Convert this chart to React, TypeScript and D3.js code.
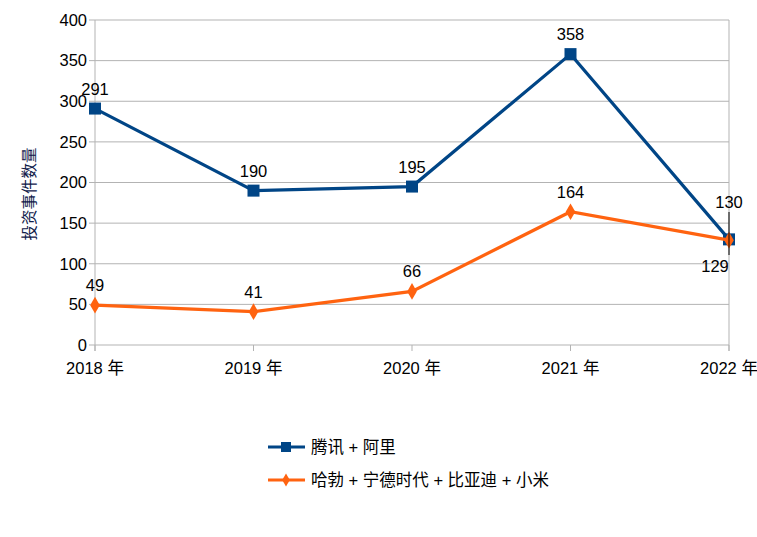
import * as React from "react";
import * as d3 from "d3";

const years = ["2018 年", "2019 年", "2020 年", "2021 年", "2022 年"];
const tencentAli = [291, 190, 195, 358, 130];
const othersSeries = [49, 41, 66, 164, 129];
const yTicks = [0, 50, 100, 150, 200, 250, 300, 350, 400];
const seriesNames = ["腾讯 + 阿里", "哈勃 + 宁德时代 + 比亚迪 + 小米"];

const W = 757;
const H = 537;
const left = 95;
const right = 729;
const top = 20;
const bottom = 345;
const font = "'Liberation Sans', 'Noto Sans CJK SC', sans-serif";
const blue = "#004586";
const orange = "#ff6310";

const App = () => {
  const x = d3.scalePoint<string>().domain(years).range([left, right]);
  const y = d3.scaleLinear().domain([0, 400]).range([bottom, top]);
  const line = d3
    .line<number>()
    .x((d, i) => x(years[i]) as number)
    .y(d => y(d));
  const diamond = d3.symbol().type(d3.symbolDiamond).size(80);
  const last = years.length - 1;

  return (
    <svg width={W} height={H} style={{ display: "block", position: "absolute", left: 0, top: 0 }}>
      <rect width={W} height={H} fill="#fff" />
      {yTicks.map(t => (
        <g key={t}>
          <line x1={left - 6} x2={right} y1={y(t)} y2={y(t)} stroke="#b3b3b3" strokeWidth={1} />
          <text x={left - 8} y={y(t)} dy="0.35em" textAnchor="end" fontFamily={font} fontSize={16.5} fill="#000">
            {t}
          </text>
        </g>
      ))}
      <line x1={left} x2={left} y1={top} y2={bottom + 6} stroke="#b3b3b3" />
      <line x1={right} x2={right} y1={top} y2={bottom + 6} stroke="#b3b3b3" />
      {years.map(yr => (
        <g key={yr}>
          <line x1={x(yr)} x2={x(yr)} y1={bottom} y2={bottom + 6} stroke="#b3b3b3" />
          <text x={x(yr)} y={bottom + 29} textAnchor="middle" fontFamily={font} fontSize={16.5} fill="#000">
            {yr}
          </text>
        </g>
      ))}
      <text
        transform={`translate(35,194) rotate(-90)`}
        textAnchor="middle"
        fontFamily={font}
        fontSize={15.5}
        fill="#10204a"
      >
        投资事件数量
      </text>

      <path d={line(tencentAli) || ""} fill="none" stroke={blue} strokeWidth={3.2} />
      {tencentAli.map((v, i) => (
        <rect key={i} x={(x(years[i]) as number) - 6} y={y(v) - 6} width={12} height={12} fill={blue} />
      ))}
      <path d={line(othersSeries) || ""} fill="none" stroke={orange} strokeWidth={3.2} />
      {othersSeries.map((v, i) => (
        <path key={i} d={diamond() || ""} transform={`translate(${x(years[i])},${y(v)})`} fill={orange} />
      ))}

      <line x1={right} x2={right} y1={212} y2={255} stroke="#000" strokeWidth={1} />
      {tencentAli.map((v, i) => (
        <text
          key={i}
          x={x(years[i])}
          y={i === last ? 208 : y(v) - 14}
          textAnchor="middle"
          fontFamily={font}
          fontSize={16.5}
          fill="#000"
        >
          {v}
        </text>
      ))}
      {othersSeries.map((v, i) => (
        <text
          key={i}
          x={i === last ? (x(years[i]) as number) - 14 : x(years[i])}
          y={i === last ? 272 : y(v) - 14}
          textAnchor="middle"
          fontFamily={font}
          fontSize={16.5}
          fill="#000"
        >
          {v}
        </text>
      ))}

      {seriesNames.map((name, i) => {
        const ly = 447 + i * 33;
        const c = i === 0 ? blue : orange;
        return (
          <g key={name}>
            <line x1={268} x2={305} y1={ly} y2={ly} stroke={c} strokeWidth={3} />
            {i === 0 ? (
              <rect x={281} y={ly - 5} width={10} height={10} fill={c} />
            ) : (
              <path d={d3.symbol().type(d3.symbolDiamond).size(50)() || ""} transform={`translate(286,${ly})`} fill={c} />
            )}
            <text x={311} y={ly} dy="0.35em" fontFamily={font} fontSize={16.5} fill="#000">
              {name}
            </text>
          </g>
        );
      })}
    </svg>
  );
};

export default App;
